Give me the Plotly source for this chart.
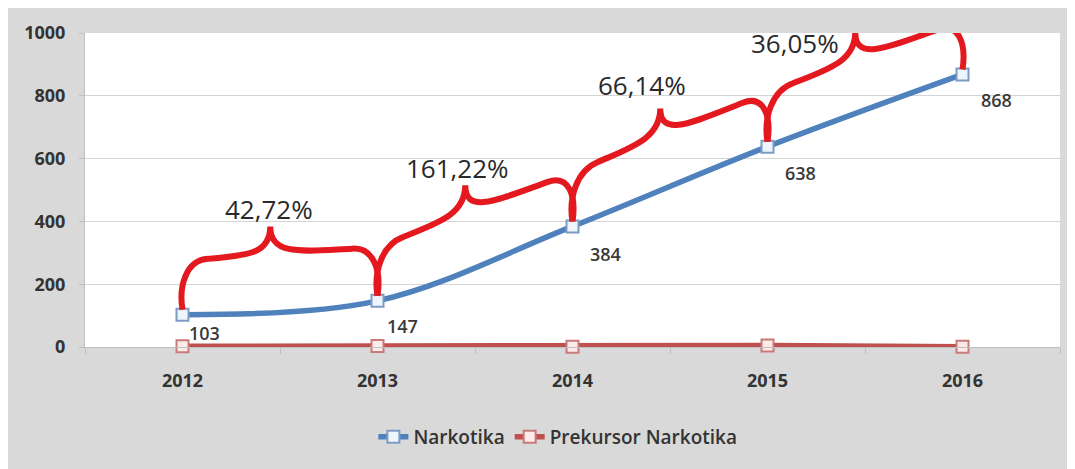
import plotly.graph_objects as go

# ---- data ----
years = ["2012", "2013", "2014", "2015", "2016"]
narkotika = [103, 147, 384, 638, 868]
prekursor = [2, 3, 1, 5, 1]
growth_labels = ["42,72%", "161,22%", "66,14%", "36,05%"]
y_ticks = [0, 200, 400, 600, 800, 1000]

# ---- layout geometry (figure pixels; page has an 8px body margin) ----
W, H = 1060, 469
ML, MR, MT, MB = 77, 8, 25, 130
PW, PH = W - ML - MR, H - MT - MB
XMIN, XMAX = -0.5, 4.5
YMIN, YMAX = 0, 1000

def px_to_data(px, py):
    x = XMIN + (px - ML) / PW * (XMAX - XMIN)
    y = YMIN + (MT + PH - py) / PH * (YMAX - YMIN)
    return x, y

def data_to_px(x, y):
    px = ML + (x - XMIN) / (XMAX - XMIN) * PW
    py = MT + PH - (y - YMIN) / (YMAX - YMIN) * PH
    return px, py

def paper_y(py):
    return (MT + PH - py) / PH

xs = list(range(len(years)))

fig = go.Figure()
fig.add_trace(go.Scatter(
    x=xs, y=narkotika, name="Narkotika", mode="lines+markers",
    line=dict(color="#4f81bd", width=5.5, shape="spline", smoothing=1.0),
    marker=dict(symbol="square", size=12, color="#eef5fc",
                line=dict(color="#7d9cc4", width=2)),
    cliponaxis=False,
))
fig.add_trace(go.Scatter(
    x=xs, y=prekursor, name="Prekursor Narkotika", mode="lines+markers",
    line=dict(color="#c0504d", width=5.5),
    marker=dict(symbol="square", size=12, color="#fdeaea",
                line=dict(color="#c77a78", width=2)),
    cliponaxis=False,
))

# ---- data labels ----
lab_dx = [22, 25, 33, 33, 34]
lab_dy = [-18, -25, -28, -26, -26]
for i, v in enumerate(narkotika):
    fig.add_annotation(x=xs[i], y=v, text=str(v), showarrow=False,
                       xanchor="center", yanchor="middle",
                       xshift=lab_dx[i], yshift=lab_dy[i],
                       font=dict(family="Open Sans", size=18, color="#3a3a3a", weight=600))

# ---- braces ----
BR_H, BR_Q = 54, 28
BR_COLOR = "#e3191f"

def brace_path(i):
    x0p, y0p = data_to_px(xs[i], narkotika[i])
    x1p, y1p = data_to_px(xs[i + 1], narkotika[i + 1])
    Wd = x1p - x0p

    def P(a, v):
        u = a / Wd
        px = x0p + a
        py = y0p + u * (y1p - y0p) - v
        x, y = px_to_data(px, py)
        return f"{x:.5f},{y:.3f}"

    h, q = BR_H, BR_Q
    t = 0.45 * Wd
    segs = [
        f"M {P(0, 5)}",
        f"C {P(-4, 0.55*h)} {P(0.02*Wd, h)} {P(0.13*Wd, h)}",
        f"C {P(0.30*Wd, h+1)} {P(t, h-2)} {P(t, h+q)}",
        f"C {P(t, h-2)} {P(0.62*Wd, h+1)} {P(0.87*Wd, h)}",
        f"C {P(0.98*Wd, h)} {P(Wd+4, 0.55*h)} {P(Wd, 5)}",
    ]
    return " ".join(segs)

shapes = []
for i in range(len(growth_labels)):
    shapes.append(dict(type="path", path=brace_path(i), xref="x", yref="y",
                       line=dict(color=BR_COLOR, width=6), layer="above"))

# growth labels
g_dx = [-11, -18, -28, -70]
g_dy = [99, 96, 102, 68]
for i, txt in enumerate(growth_labels):
    fig.add_annotation(x=xs[i] + 0.5, y=(narkotika[i] + narkotika[i + 1]) / 2,
                       text=txt, showarrow=False, xanchor="center", yanchor="middle",
                       xshift=g_dx[i], yshift=g_dy[i],
                       font=dict(family="Open Sans", size=26, color="#2a2a2a"))

fig.update_layout(
    width=W, height=H,
    margin=dict(l=ML, r=MR, t=MT, b=MB, pad=0),
    paper_bgcolor="#d9d9d9", plot_bgcolor="white",
    shapes=shapes,
    showlegend=True,
    legend=dict(orientation="h", x=0.485, xanchor="center", y=paper_y(429), yanchor="middle",
                font=dict(family="Open Sans", size=19, color="#333333", weight=600),
                bgcolor="rgba(0,0,0,0)", itemwidth=30, tracegroupgap=0),
    xaxis=dict(range=[XMIN, XMAX], tickvals=xs, ticktext=years, showgrid=False,
               showline=True, linecolor="#bfbfbf", linewidth=1, zeroline=False,
               ticks="", ticklabelstandoff=17,
               minor=dict(tick0=-0.5, dtick=1, ticks="outside", ticklen=6, tickcolor="#bfbfbf"),
               tickfont=dict(family="Open Sans", size=18, color="#333333", weight=700)),
    yaxis=dict(range=[YMIN, YMAX], tickvals=y_ticks, showgrid=True, gridcolor="#d4d4d4",
               gridwidth=1, showline=True, linecolor="#bfbfbf", zeroline=False,
               ticks="outside", ticklen=5, tickcolor="#bfbfbf", ticklabelstandoff=10,
               tickfont=dict(family="Open Sans", size=18, color="#333333", weight=700)),
)

fig.write_html("out.html")
